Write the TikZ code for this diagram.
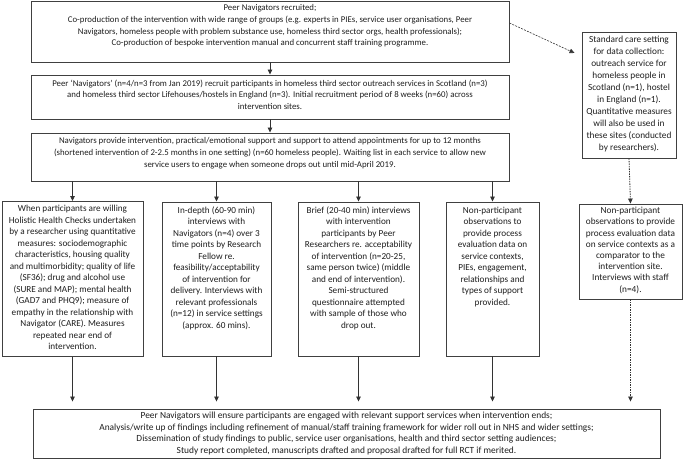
\documentclass[tikz,border=0pt]{standalone}
\usepackage{fontspec}
\setmainfont{Carlito}
\usetikzlibrary{arrows.meta,calc}
\begin{document}
\begin{tikzpicture}[x=1pt,y=-1pt,
  boxr/.style={draw=black!75, line width=0.9pt, inner sep=0pt, fill=white},
  txt/.style={inner sep=0pt, align=center, font=\fontsize{9.2}{11.5}\selectfont, text=black!88, anchor=north},
  txtup/.style={txt, font=\fontsize{8.8}{11.7}\selectfont},
  txtbot/.style={txt, font=\fontsize{9.4}{11.5}\selectfont},
  txtr/.style={txt, font=\fontsize{9.3}{12}\selectfont},
  txtrb/.style={txt, font=\fontsize{9.3}{11.2}\selectfont},
  arr/.style={draw=black!80, line width=0.8pt, -{Triangle[length=5pt,width=4.5pt]}},
  dotarr/.style={arr, dash pattern=on 1.5pt off 1pt},
  dasharr/.style={arr, line width=0.6pt, dash pattern=on 2pt off 1.2pt}]
\useasboundingbox (0,0) rectangle (685,460);

% upper chain
\node[boxr, minimum width=478pt, minimum height=61pt] (b1) at (270,31.5) {};
\node[txtup] (t1) at ([yshift=-4pt]b1.north) {Peer Navigators recruited;\\
Co-production of the intervention with wide range of groups (e.g. experts in PIEs, service user organisations, Peer\\
Navigators, homeless people with problem substance use, homeless third sector orgs, health professionals);\\
Co-production of bespoke intervention manual and concurrent staff training programme.};

\node[boxr, minimum width=478pt, minimum height=44pt] (b2) at (270,97) {};
\node[txtup] (t2) at ([yshift=-5pt]b2.north) {Peer ‘Navigators’ (n=4/n=3 from Jan 2019) recruit participants in homeless third sector outreach services in Scotland (n=3)\\
and homeless third sector Lifehouses/hostels in England (n=3). Initial recruitment period of 8 weeks (n=60) across\\
intervention sites.};

\node[boxr, minimum width=478pt, minimum height=48pt] (b3) at (270,157) {};
\node[txtup] (t3) at ([yshift=-5pt]b3.north) {Navigators provide intervention, practical/emotional support and support to attend appointments for up to 12 months\\
(shortened intervention of 2-2.5 months in one setting) (n=60 homeless people). Waiting list in each service to allow new\\
service users to engage when someone drops out until mid-April 2019.};

% right column
\node[boxr, minimum width=94pt, minimum height=126pt] (r1) at (629,95) {};
\node[txtr] (tr1) at ([yshift=-4pt]r1.north) {Standard care setting\\
for data collection:\\
outreach service for\\
homeless people in\\
Scotland (n=1), hostel\\
in England (n=1).\\
Quantitative measures\\
will also be used in\\
these sites (conducted\\
by researchers).};

\node[boxr, minimum width=103pt, minimum height=95pt] (r2) at (630.5,251.5) {};
\node[txtrb] (tr2) at ([yshift=-3.5pt]r2.north) {Non-participant\\
observations to provide\\
process evaluation data\\
on service contexts as a\\
comparator to the\\
intervention site.\\
Interviews with staff\\
(n=4).};

% lower row
\node[boxr, minimum width=141pt, minimum height=155pt] (c1) at (72.5,279) {};
\node[txt] (tc1) at ([yshift=-4pt]c1.north) {When participants are willing\\
Holistic Health Checks undertaken\\
by a researcher using quantitative\\
measures: sociodemographic\\
characteristics, housing quality\\
and multimorbidity; quality of life\\
(SF36); drug and alcohol use\\
(SURE and MAP); mental health\\
(GAD7 and PHQ9); measure of\\
empathy in the relationship with\\
Navigator (CARE). Measures\\
repeated near end of\\
intervention.};

\node[boxr, minimum width=109pt, minimum height=154pt] (c2) at (216.5,279) {};
\node[txt] (tc2) at ([yshift=-5pt]c2.north) {In-depth (60-90 min)\\
interviews with\\
Navigators (n=4) over 3\\
time points by Research\\
Fellow re.\\
feasibility/acceptability\\
of intervention for\\
delivery. Interviews with\\
relevant professionals\\
(n=12) in service settings\\
(approx. 60 mins).};

\node[boxr, minimum width=121pt, minimum height=154pt] (c3) at (358.5,279) {};
\node[txt] (tc3) at ([yshift=-5pt]c3.north) {Brief (20-40 min) interviews\\
with intervention\\
participants by Peer\\
Researchers re. acceptability\\
of intervention (n=20-25,\\
same person twice) (middle\\
and end of intervention).\\
Semi-structured\\
questionnaire attempted\\
with sample of those who\\
drop out.};

\node[boxr, minimum width=93pt, minimum height=154pt] (c4) at (492.5,279) {};
\node[txt] (tc4) at ([yshift=-5pt]c4.north) {Non-participant\\
observations to\\
provide process\\
evaluation data on\\
service contexts,\\
PIEs, engagement,\\
relationships and\\
types of support\\
provided.};

% bottom box
\node[boxr, minimum width=627pt, minimum height=49pt] (bt) at (346.5,433.5) {};
\node[txtbot] (tb) at ([yshift=-3.5pt]bt.north) {Peer Navigators will ensure participants are engaged with relevant support services when intervention ends;\\
Analysis/write up of findings including refinement of manual/staff training framework for wider roll out in NHS and wider settings;\\
Dissemination of study findings to public, service user organisations, health and third sector setting audiences;\\
Study report completed, manuscripts drafted and proposal drafted for full RCT if merited.};

% connectors
\draw[arr] (b1.south) -- (b2.north);
\draw[arr] (b2.south) -- (b3.north);
\draw[arr] (b3.south -| c1.north) -- (c1.north);
\draw[arr] (b3.south -| c2.north) -- (c2.north);
\draw[arr] (b3.south -| c3.north) -- (c3.north);
\draw[arr] (b3.south -| c4.north) -- (c4.north);
\draw[arr, shorten >=7pt] (c1.south) -- (c1.south |- bt.north);
\draw[arr, shorten >=7pt] (c2.south) -- (c2.south |- bt.north);
\draw[arr, shorten >=7pt] (c3.south) -- (c3.south |- bt.north);
\draw[arr, shorten >=7pt] (c4.south) -- (c4.south |- bt.north);
\coordinate (rtip) at ([xshift=-7pt,yshift=42pt]r1.west);
\draw[dasharr] ([yshift=8.5pt]b1.east) -- (rtip);
\draw[dotarr] (r1.south) -- (r2.north);
\draw[dotarr, shorten >=7pt] (r2.south) -- (r2.south |- bt.north);
\end{tikzpicture}
\end{document}
